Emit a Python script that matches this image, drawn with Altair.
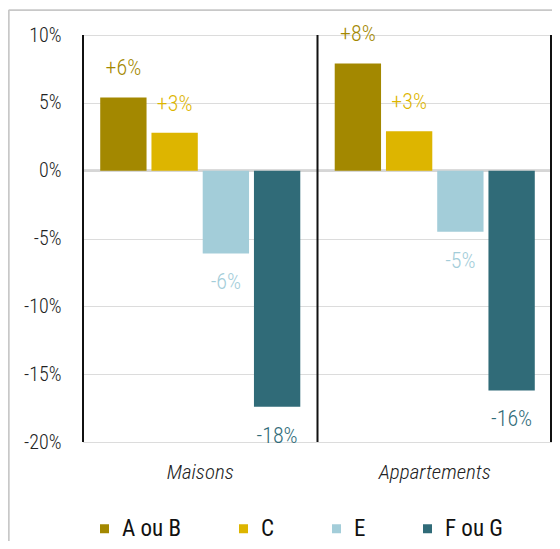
import altair as alt
import pandas as pd

groups = ["Maisons", "Appartements"]
classes = ["A ou B", "C", "E", "F ou G"]
maisons = [5.4, 2.8, -6.1, -17.4]
appartements = [7.9, 2.9, -4.5, -16.2]
maisons_labels = ["+6%", "+3%", "-6%", "-18%"]
appartements_labels = ["+8%", "+3%", "-5%", "-16%"]
colors = ["#A38800", "#DDB500", "#A3CDD9", "#306B78"]
y_ticks = [10, 5, 0, -5, -10, -15, -20]

rows = []
for g, vals, labs in [("Maisons", maisons, maisons_labels),
                      ("Appartements", appartements, appartements_labels)]:
    for c, v, l in zip(classes, vals, labs):
        rows.append({"groupe": g, "classe": c, "valeur": v, "label": l})
df = pd.DataFrame(rows)
seps = pd.DataFrame({"groupe": groups})

W, H = 469, 407
FONT = "Roboto Condensed"

xenc = alt.X("groupe:N", sort=groups,
             scale=alt.Scale(domain=groups, paddingInner=0, paddingOuter=0),
             axis=alt.Axis(title=None, labelFontStyle="italic", labelFontSize=21,
                           labelPadding=19, ticks=False, domain=False, labelAngle=0,
                           labelColor="#222222", labelFont=FONT, labelFontWeight=300))
xoff = alt.XOffset("classe:N", sort=classes,
                   scale=alt.Scale(domain=classes, paddingInner=0.096, paddingOuter=0.336))
yenc = alt.Y("valeur:Q", scale=alt.Scale(domain=[-20, 10], nice=False, zero=False),
             axis=alt.Axis(title=None, values=y_ticks, labelExpr="datum.value + '%'",
                           labelFontSize=20, labelColor="#222222", labelPadding=22,
                           ticks=False, domain=False, grid=True, gridColor="#dcdcdc",
                           gridWidth=1.2, labelFont=FONT, labelFontWeight=300))
cscale = alt.Scale(domain=classes, range=colors)

bars = alt.Chart(df).mark_bar().encode(
    x=xenc, xOffset=xoff, y=yenc,
    color=alt.Color("classe:N", sort=classes, scale=cscale,
                    legend=alt.Legend(title=None, orient="none", direction="horizontal",
                                      legendX=10, legendY=482, symbolType="square",
                                      symbolSize=81, symbolStrokeWidth=0, labelFontSize=23,
                                      labelColor="#111111", labelFont=FONT,
                                      labelFontWeight=400,
                                      columnPadding=50, labelOffset=6, padding=0)),
)

pos = alt.Chart(df).transform_filter("datum.valeur > 0").mark_text(
    fontSize=22, dy=-29, font=FONT, fontWeight=300).encode(
    x=xenc, xOffset=xoff, y=yenc, text="label:N",
    color=alt.Color("classe:N", scale=cscale, legend=None))
neg = alt.Chart(df).transform_filter("datum.valeur < 0").mark_text(
    fontSize=22, dy=29, font=FONT, fontWeight=300).encode(
    x=xenc, xOffset=xoff, y=yenc, text="label:N",
    color=alt.Color("classe:N", scale=cscale, legend=None))

zero = alt.Chart(df).mark_rule(color="#d6d6d6", strokeWidth=2).encode(y=alt.datum(0))

seprules = alt.Chart(seps).mark_rule(color="#111111", strokeWidth=2).encode(
    x=alt.X("groupe:N", sort=groups, bandPosition=0), y=alt.value(0), y2=alt.value(H))
endrule = alt.Chart(seps).mark_rule(color="#111111", strokeWidth=2).encode(
    x=alt.value(W - 1), y=alt.value(0), y2=alt.value(H))

border_left = alt.Chart(seps).mark_rule(color="#c8c8c8", strokeWidth=1.5).encode(
    x=alt.value(-74.3), y=alt.value(-24.7), y2=alt.value(H + 120))
border_top = alt.Chart(seps).mark_rule(color="#c8c8c8", strokeWidth=1.5).encode(
    x=alt.value(-74.3), x2=alt.value(W + 10), y=alt.value(-24.7))

chart = alt.layer(border_left, border_top, zero, bars, seprules, endrule, pos, neg).properties(
    width=W, height=H,
    autosize=alt.AutoSizeParams(type="none"),
    padding={"left": 75, "top": 27, "right": 0, "bottom": 99},
).configure_view(stroke=None).configure(font=FONT)

chart.save("out.html", embed_options={"renderer": "svg", "actions": False})
